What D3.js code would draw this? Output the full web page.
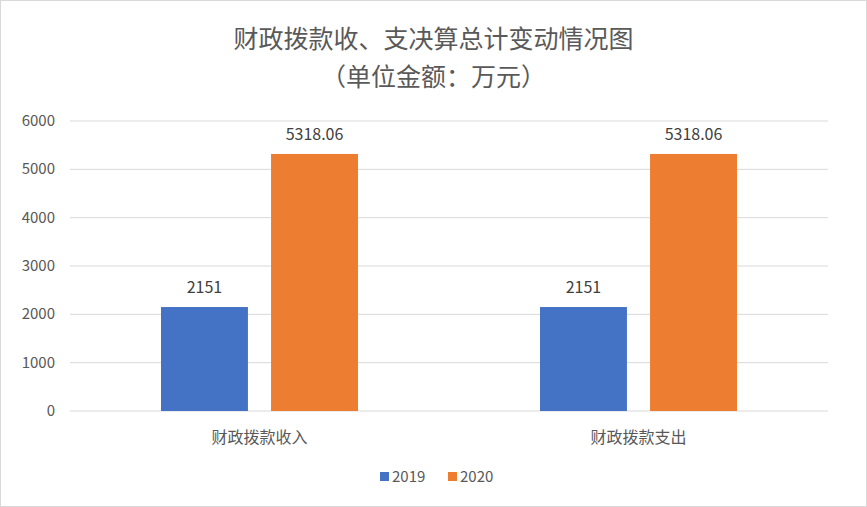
<!DOCTYPE html>
<html lang="zh">
<head>
<meta charset="UTF-8">
<style>
  body { margin: 0; background: #fff; }
  text { font-family: "Noto Sans CJK SC", "DejaVu Sans", sans-serif; }
</style>
</head>
<body>
<svg id="chart" width="867" height="507"></svg>
<script src="https://cdn.jsdelivr.net/npm/d3@7"></script>
<script>
const categories = ["财政拨款收入", "财政拨款支出"];
const seriesNames = ["2019", "2020"];
const values2019 = [2151, 2151];
const values2020 = [5318.06, 5318.06];
const yTicks = [0, 1000, 2000, 3000, 4000, 5000, 6000];
const colors = ["#4472c4", "#ed7d31"];

const svg = d3.select("#chart");
const W = 867, H = 507;
const plotLeft = 70, plotRight = 828, plotTop = 121, plotBottom = 411;

svg.append("rect").attr("x", 0.5).attr("y", 0.5).attr("width", W - 1).attr("height", H - 1)
  .attr("fill", "#fff").attr("stroke", "#d9d9d9");

svg.append("text").attr("x", W / 2).attr("y", 48).attr("text-anchor", "middle")
  .attr("font-size", 25).attr("fill", "#595959").text("财政拨款收、支决算总计变动情况图");
svg.append("text").attr("x", W / 2).attr("y", 86).attr("text-anchor", "middle")
  .attr("font-size", 25).attr("fill", "#595959").text("（单位金额：万元）");

const y = d3.scaleLinear().domain([0, 6000]).range([plotBottom, plotTop]);
const x0 = d3.scaleBand().domain(categories).range([plotLeft, plotRight]);
const x1 = d3.scaleBand().domain(seriesNames).range([0, 197]).paddingInner(0.21);

svg.append("g").selectAll("line").data(yTicks).join("line")
  .attr("x1", plotLeft).attr("x2", plotRight)
  .attr("y1", d => y(d)).attr("y2", d => y(d))
  .attr("stroke", "#d9d9d9");

svg.append("g").selectAll("text").data(yTicks).join("text")
  .attr("x", 55).attr("y", d => y(d) + 5).attr("text-anchor", "end")
  .attr("font-size", 15).attr("fill", "#595959").text(d => d);

const rows = categories.map((c, i) => ({ c, vals: [values2019[i], values2020[i]] }));
const g = svg.append("g").selectAll("g").data(rows).join("g")
  .attr("transform", d => `translate(${x0(d.c) + x0.bandwidth() / 2 - 98.5},0)`);

g.selectAll("rect").data(d => d.vals.map((v, k) => ({ v, k }))).join("rect")
  .attr("x", d => x1(seriesNames[d.k])).attr("width", x1.bandwidth())
  .attr("y", d => y(d.v)).attr("height", d => plotBottom - y(d.v))
  .attr("fill", d => colors[d.k]);

g.selectAll("text.lbl").data(d => d.vals.map((v, k) => ({ v, k }))).join("text")
  .attr("class", "lbl")
  .attr("x", d => x1(seriesNames[d.k]) + x1.bandwidth() / 2)
  .attr("y", d => y(d.v) - 14).attr("text-anchor", "middle")
  .attr("font-size", 16).attr("fill", "#404040").text(d => d.v);

svg.append("g").selectAll("text").data(categories).join("text")
  .attr("x", d => x0(d) + x0.bandwidth() / 2).attr("y", 443).attr("text-anchor", "middle")
  .attr("font-size", 16).attr("fill", "#595959").text(d => d);

const lg = svg.append("g").attr("transform", "translate(380,477)");
seriesNames.forEach((s, i) => {
  const gx = i * 68;
  lg.append("rect").attr("x", gx).attr("y", -5).attr("width", 9).attr("height", 9).attr("fill", colors[i]);
  lg.append("text").attr("x", gx + 12).attr("y", 5).attr("font-size", 15).attr("fill", "#595959").text(s);
});
</script>
</body>
</html>
